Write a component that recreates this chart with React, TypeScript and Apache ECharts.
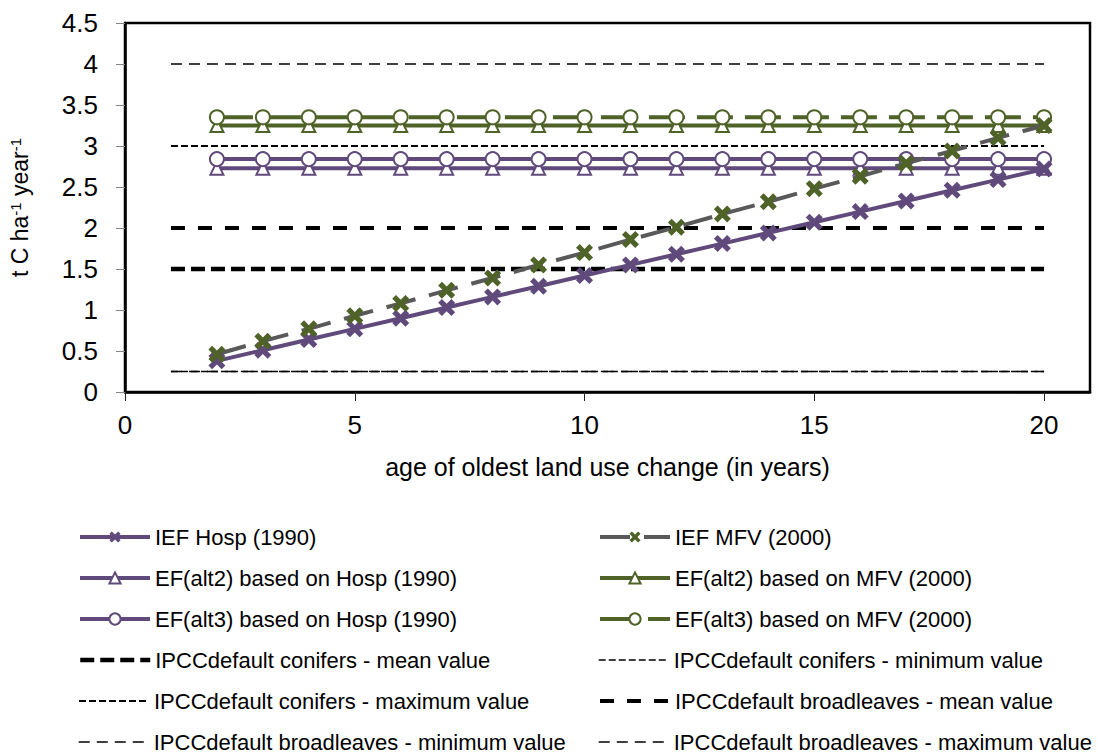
import React, { useEffect, useRef } from "react";
import * as echarts from "echarts";

// Years since land use change (x positions of the series points)
const years = [2, 3, 4, 5, 6, 7, 8, 9, 10, 11, 12, 13, 14, 15, 16, 17, 18, 19, 20];

// Implied emission factors
const iefHosp = [0.38, 0.51, 0.64, 0.77, 0.9, 1.03, 1.16, 1.29, 1.42, 1.55, 1.68, 1.81, 1.94, 2.07, 2.2, 2.33, 2.46, 2.59, 2.72];
const iefMfv = [0.46, 0.62, 0.77, 0.93, 1.08, 1.24, 1.39, 1.55, 1.7, 1.86, 2.01, 2.17, 2.32, 2.48, 2.63, 2.79, 2.94, 3.1, 3.25];

// Alternative emission factors
const efAlt2Hosp = [2.73, 2.73, 2.73, 2.73, 2.73, 2.73, 2.73, 2.73, 2.73, 2.73, 2.73, 2.73, 2.73, 2.73, 2.73, 2.73, 2.73, 2.73, 2.73];
const efAlt3Hosp = [2.84, 2.84, 2.84, 2.84, 2.84, 2.84, 2.84, 2.84, 2.84, 2.84, 2.84, 2.84, 2.84, 2.84, 2.84, 2.84, 2.84, 2.84, 2.84];
const efAlt2Mfv = [3.25, 3.25, 3.25, 3.25, 3.25, 3.25, 3.25, 3.25, 3.25, 3.25, 3.25, 3.25, 3.25, 3.25, 3.25, 3.25, 3.25, 3.25, 3.25];
const efAlt3Mfv = [3.35, 3.35, 3.35, 3.35, 3.35, 3.35, 3.35, 3.35, 3.35, 3.35, 3.35, 3.35, 3.35, 3.35, 3.35, 3.35, 3.35, 3.35, 3.35];

// IPCC default reference values, drawn across this year span
const ipccSpan = [1, 20];
const ipccConifersMean = 1.5;
const ipccConifersMin = 0.25;
const ipccConifersMax = 3;
const ipccBroadleavesMean = 2;
const ipccBroadleavesMin = 0.25;
const ipccBroadleavesMax = 4;

const xTicks = [0, 5, 10, 15, 20];

// Legend columns, top to bottom
const legendLeft = [
  "IEF Hosp (1990)",
  "EF(alt2) based on Hosp (1990)",
  "EF(alt3) based on Hosp (1990)",
  "IPCCdefault conifers - mean value",
  "IPCCdefault conifers - maximum value",
  "IPCCdefault broadleaves - minimum value",
];
const legendRight = [
  "IEF MFV (2000)",
  "EF(alt2) based on MFV (2000)",
  "EF(alt3) based on MFV (2000)",
  "IPCCdefault conifers - minimum value",
  "IPCCdefault broadleaves - mean value",
  "IPCCdefault broadleaves - maximum value",
];

const PURPLE = "#604A7B";
const GREEN = "#4F6228";
const GRAY = "#595959";
const FONT = "'Liberation Sans', Arial, sans-serif";

const crossSymbol =
  "path://M0,3.5 L3.5,0 L8,4.5 L12.5,0 L16,3.5 L11.5,8 L16,12.5 L12.5,16 L8,11.5 L3.5,16 L0,12.5 L4.5,8 Z";

const pairs = (vals: number[]) => years.map((y, i) => [y, vals[i]]);
const flat = (v: number) => ipccSpan.map((x) => [x, v]);

export default function App() {
  const ref = useRef<HTMLDivElement>(null);

  useEffect(() => {
    if (!ref.current) return;
    const chart = echarts.init(ref.current, null, { renderer: "svg" });

    const ipccLine = (name: string, v: number, width: number, dash: number[]) => ({
      name,
      type: "line",
      data: flat(v),
      symbol: "none",
      lineStyle: { color: "#000", width, type: dash, cap: "butt" },
      itemStyle: { color: "#000" },
      z: 1,
    });

    const series: any[] = [
      {
        name: "IEF Hosp (1990)",
        type: "line",
        data: pairs(iefHosp),
        symbol: crossSymbol,
        symbolSize: 17,
        lineStyle: { color: PURPLE, width: 4 },
        itemStyle: { color: PURPLE },
        z: 5,
      },
      {
        name: "IEF MFV (2000)",
        type: "line",
        data: pairs(iefMfv),
        symbol: crossSymbol,
        symbolSize: 17,
        lineStyle: { color: GRAY, width: 4, type: [30, 14] },
        itemStyle: { color: GREEN },
        z: 5,
      },
      {
        name: "EF(alt2) based on Hosp (1990)",
        type: "line",
        data: pairs(efAlt2Hosp),
        symbol: "emptyTriangle",
        symbolSize: 13,
        lineStyle: { color: PURPLE, width: 4 },
        itemStyle: { color: PURPLE, borderWidth: 3 },
        z: 4,
      },
      {
        name: "EF(alt2) based on MFV (2000)",
        type: "line",
        data: pairs(efAlt2Mfv),
        symbol: "emptyTriangle",
        symbolSize: 13,
        lineStyle: { color: GREEN, width: 4 },
        itemStyle: { color: GREEN, borderWidth: 3 },
        z: 4,
      },
      {
        name: "EF(alt3) based on Hosp (1990)",
        type: "line",
        data: pairs(efAlt3Hosp),
        symbol: "emptyCircle",
        symbolSize: 14,
        lineStyle: { color: PURPLE, width: 4 },
        itemStyle: { color: PURPLE, borderWidth: 3.5 },
        z: 4,
      },
      {
        name: "EF(alt3) based on MFV (2000)",
        type: "line",
        data: pairs(efAlt3Mfv),
        symbol: "emptyCircle",
        symbolSize: 14,
        lineStyle: { color: GREEN, width: 4, type: [36, 12] },
        itemStyle: { color: GREEN, borderWidth: 3.5 },
        z: 4,
      },
      ipccLine("IPCCdefault conifers - mean value", ipccConifersMean, 4.5, [14, 6]),
      ipccLine("IPCCdefault conifers - minimum value", ipccConifersMin, 1.5, [7, 3]),
      ipccLine("IPCCdefault conifers - maximum value", ipccConifersMax, 2, [7, 3]),
      ipccLine("IPCCdefault broadleaves - mean value", ipccBroadleavesMean, 4, [14, 13]),
      ipccLine("IPCCdefault broadleaves - minimum value", ipccBroadleavesMin, 1.5, [11, 7]),
      ipccLine("IPCCdefault broadleaves - maximum value", ipccBroadleavesMax, 1.5, [11, 7]),
    ];

    // one single-entry legend per row keeps both columns aligned
    const legendEntry = (name: string, left: number, row: number) => {
      const s = series.find((d) => d.name === name);
      const item: any = { name, lineStyle: { width: s.lineStyle.width } };
      if (s.symbol === "none") item.itemStyle = { opacity: 0 };
      return {
        left,
        top: 526 + row * 41,
        padding: 0,
        itemWidth: 70,
        itemHeight: 14,
        selectedMode: false,
        textStyle: { fontSize: 22, color: "#000", fontFamily: FONT },
        data: [item],
      };
    };

    chart.setOption({
      animation: false,
      backgroundColor: "#fff",
      textStyle: { fontFamily: FONT },
      grid: {
        left: 125,
        right: 8,
        top: 23,
        bottom: 361,
        show: true,
        borderColor: "#000",
        borderWidth: 2.5,
        outerBoundsMode: "none",
      },
      legend: [
        ...legendLeft.map((n, i) => legendEntry(n, 78, i)),
        ...legendRight.map((n, i) => legendEntry(n, 598, i)),
      ],
      xAxis: {
        type: "value",
        min: 0,
        max: 21,
        name: "age of oldest land use change (in years)",
        nameLocation: "middle",
        nameGap: 62,
        nameTextStyle: { fontSize: 25, color: "#000" },
        axisLine: { show: true, lineStyle: { color: "#000", width: 2.5 } },
        axisTick: { show: true, length: 9, customValues: xTicks, lineStyle: { color: "#222", width: 1 } },
        axisLabel: { customValues: xTicks, fontSize: 26, color: "#000", margin: 20 },
        splitLine: { show: false },
      },
      yAxis: {
        type: "value",
        min: 0,
        max: 4.5,
        interval: 0.5,
        name: "{a|t C ha}{s|-1}{a| year}{s|-1}",
        nameLocation: "middle",
        nameRotate: 90,
        nameGap: 94,
        nameTextStyle: {
          color: "#000",
          fontSize: 23,
          rich: {
            a: { fontSize: 23, color: "#000" },
            s: { fontSize: 15, color: "#000", verticalAlign: "top" },
          },
        },
        axisLine: { show: true, lineStyle: { color: "#000", width: 2.5 } },
        axisTick: { show: true, length: 9, lineStyle: { color: "#868686", width: 1 } },
        axisLabel: { fontSize: 26, color: "#000", margin: 27 },
        splitLine: { show: false },
      },
      series,
    });

    return () => chart.dispose();
  }, []);

  return (
    <div
      ref={ref}
      style={{ position: "fixed", left: 0, top: 0, width: 1098, height: 753, background: "#fff" }}
    />
  );
}
